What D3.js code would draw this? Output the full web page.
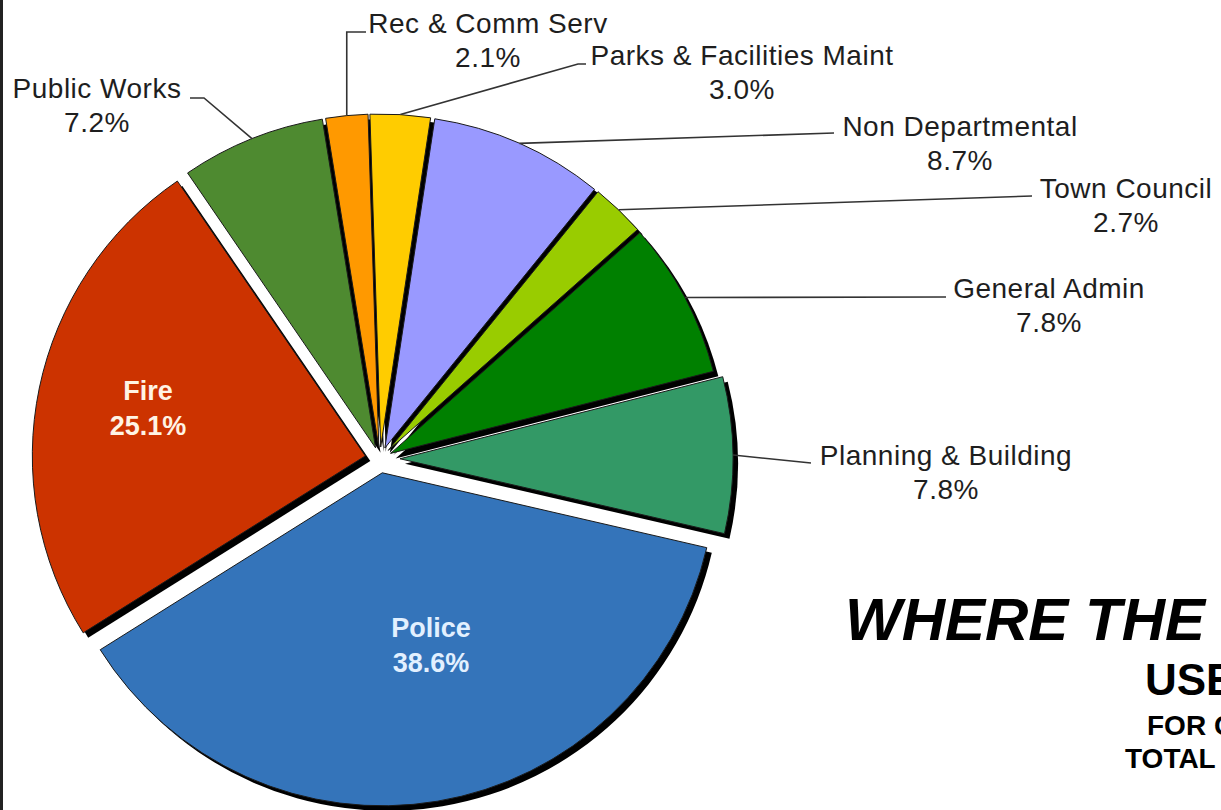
<!DOCTYPE html>
<html>
<head>
<meta charset="utf-8">
<script src="https://cdn.jsdelivr.net/npm/d3@7"></script>
<style>
  html, body { margin: 0; padding: 0; background: #ffffff; overflow: hidden; }
  svg { display: block; }
  text { font-family: "Liberation Sans", Arial, sans-serif; }
</style>
</head>
<body>
<svg id="chart" width="1221" height="810"></svg>
<script>
// ---- Data ----
const categories = ["Rec & Comm Serv", "Parks & Facilities Maint", "Non Departmental", "Town Council",
                    "General Admin", "Planning & Building", "Police", "Fire", "Public Works"];
const percents = [2.1, 3.0, 8.7, 2.7, 7.8, 7.8, 38.6, 25.1, 7.2];
const titleLines = ["WHERE THE", "USE", "FOR G", "TOTAL"];

// ---- Styling / layout ----
const sliceColors = ["#FF9900", "#FFCC00", "#9999FF", "#99CC00", "#008000", "#339966", "#3474BA", "#CC3300", "#4E8A30"];
const explodeDist = [12, 12, 12, 12, 12, 20, 14, 15, 12];
const W = 1221, H = 810;
const cx = 380, cy = 459, R = 333;
const startDeg = -9.2;

const svg = d3.select("#chart");
svg.append("rect").attr("width", W).attr("height", H).attr("fill", "#fff");

const pie = d3.pie().sort(null)
  .startAngle(startDeg * Math.PI / 180)
  .endAngle(startDeg * Math.PI / 180 + 2 * Math.PI);
const arcs = pie(percents);
const arcGen = d3.arc().innerRadius(0).outerRadius(R);

arcs.forEach((a, i) => {
  a.mid = (a.startAngle + a.endAngle) / 2;
  a.ox = cx + explodeDist[i] * Math.sin(a.mid);
  a.oy = cy - explodeDist[i] * Math.cos(a.mid);
  a.edge = [a.ox + R * Math.sin(a.mid), a.oy - R * Math.cos(a.mid)];
});

// shadows
const shadowG = svg.append("g");
shadowG.selectAll("path").data(arcs).join("path")
  .attr("transform", d => `translate(${d.ox + 5},${d.oy + 5})`)
  .attr("d", arcGen)
  .attr("fill", "#000");

// slices
const sliceG = svg.append("g");
sliceG.selectAll("path").data(arcs).join("path")
  .attr("transform", d => `translate(${d.ox},${d.oy})`)
  .attr("d", arcGen)
  .attr("fill", (d, i) => sliceColors[i])
  .attr("stroke", "#1a1a1a")
  .attr("stroke-width", 1)
  .attr("stroke-linejoin", "round");

// ---- Outside labels (layout) ----
const fmt = v => d3.format(".1f")(v) + "%";
const outside = [
  { i: 0, x: 488, y: 33, leader: e => [e, [e[0], 32], [366, 32]] },
  { i: 1, x: 742, y: 65, leader: e => [e, [578, 64], [586, 64]] },
  { i: 2, x: 960, y: 136, leader: e => [e, [834, 133]] },
  { i: 3, x: 1126, y: 198, leader: e => [e, [1032, 196]] },
  { i: 4, x: 1049, y: 298, leader: e => [e, [946, 297]] },
  { i: 5, x: 946, y: 465, leader: e => [e, [811, 463]] },
  { i: 8, x: 97, y: 98, leader: e => [e, [204, 98], [190, 98]] }
];

const line = d3.line();
const labG = svg.append("g");
outside.forEach(o => {
  const a = arcs[o.i];
  labG.append("path")
    .attr("d", line(o.leader(a.edge)))
    .attr("fill", "none")
    .attr("stroke", "#333")
    .attr("stroke-width", 1.6);
  const t = labG.append("text")
    .attr("x", o.x).attr("y", o.y)
    .attr("text-anchor", "middle")
    .attr("font-size", 28)
    .attr("letter-spacing", 0.5)
    .attr("fill", "#1e1e1e");
  t.append("tspan").attr("x", o.x).attr("y", o.y).text(categories[o.i]);
  t.append("tspan").attr("x", o.x).attr("y", o.y + 34).text(fmt(percents[o.i]));
});

// ---- Inside labels ----
const inside = [
  { i: 7, x: 148, y: 400, color: "#FFF4E4" },
  { i: 6, x: 431, y: 637, color: "#E2F0FF" }
];
inside.forEach(o => {
  const t = labG.append("text")
    .attr("text-anchor", "middle")
    .attr("font-size", 27)
    .attr("font-weight", "bold")
    .attr("fill", o.color);
  t.append("tspan").attr("x", o.x).attr("y", o.y).text(categories[o.i]);
  t.append("tspan").attr("x", o.x).attr("y", o.y + 35).text(fmt(percents[o.i]));
});

// ---- Title block (clipped by right edge) ----
const titleG = svg.append("g").attr("fill", "#000");
titleG.append("text").attr("x", 845).attr("y", 640)
  .attr("font-size", 60).attr("font-weight", "bold").attr("font-style", "italic")
  .text(titleLines[0]);
titleG.append("text").attr("x", 1145).attr("y", 695)
  .attr("font-size", 44).attr("font-weight", "bold").text(titleLines[1]);
titleG.append("text").attr("x", 1147).attr("y", 735)
  .attr("font-size", 28).attr("font-weight", "bold").text(titleLines[2]);
titleG.append("text").attr("x", 1125).attr("y", 768)
  .attr("font-size", 28).attr("font-weight", "bold").text(titleLines[3]);

// left frame border
svg.append("line").attr("x1", 1.5).attr("x2", 1.5).attr("y1", 0).attr("y2", H)
  .attr("stroke", "#222").attr("stroke-width", 3);
</script>
</body>
</html>
